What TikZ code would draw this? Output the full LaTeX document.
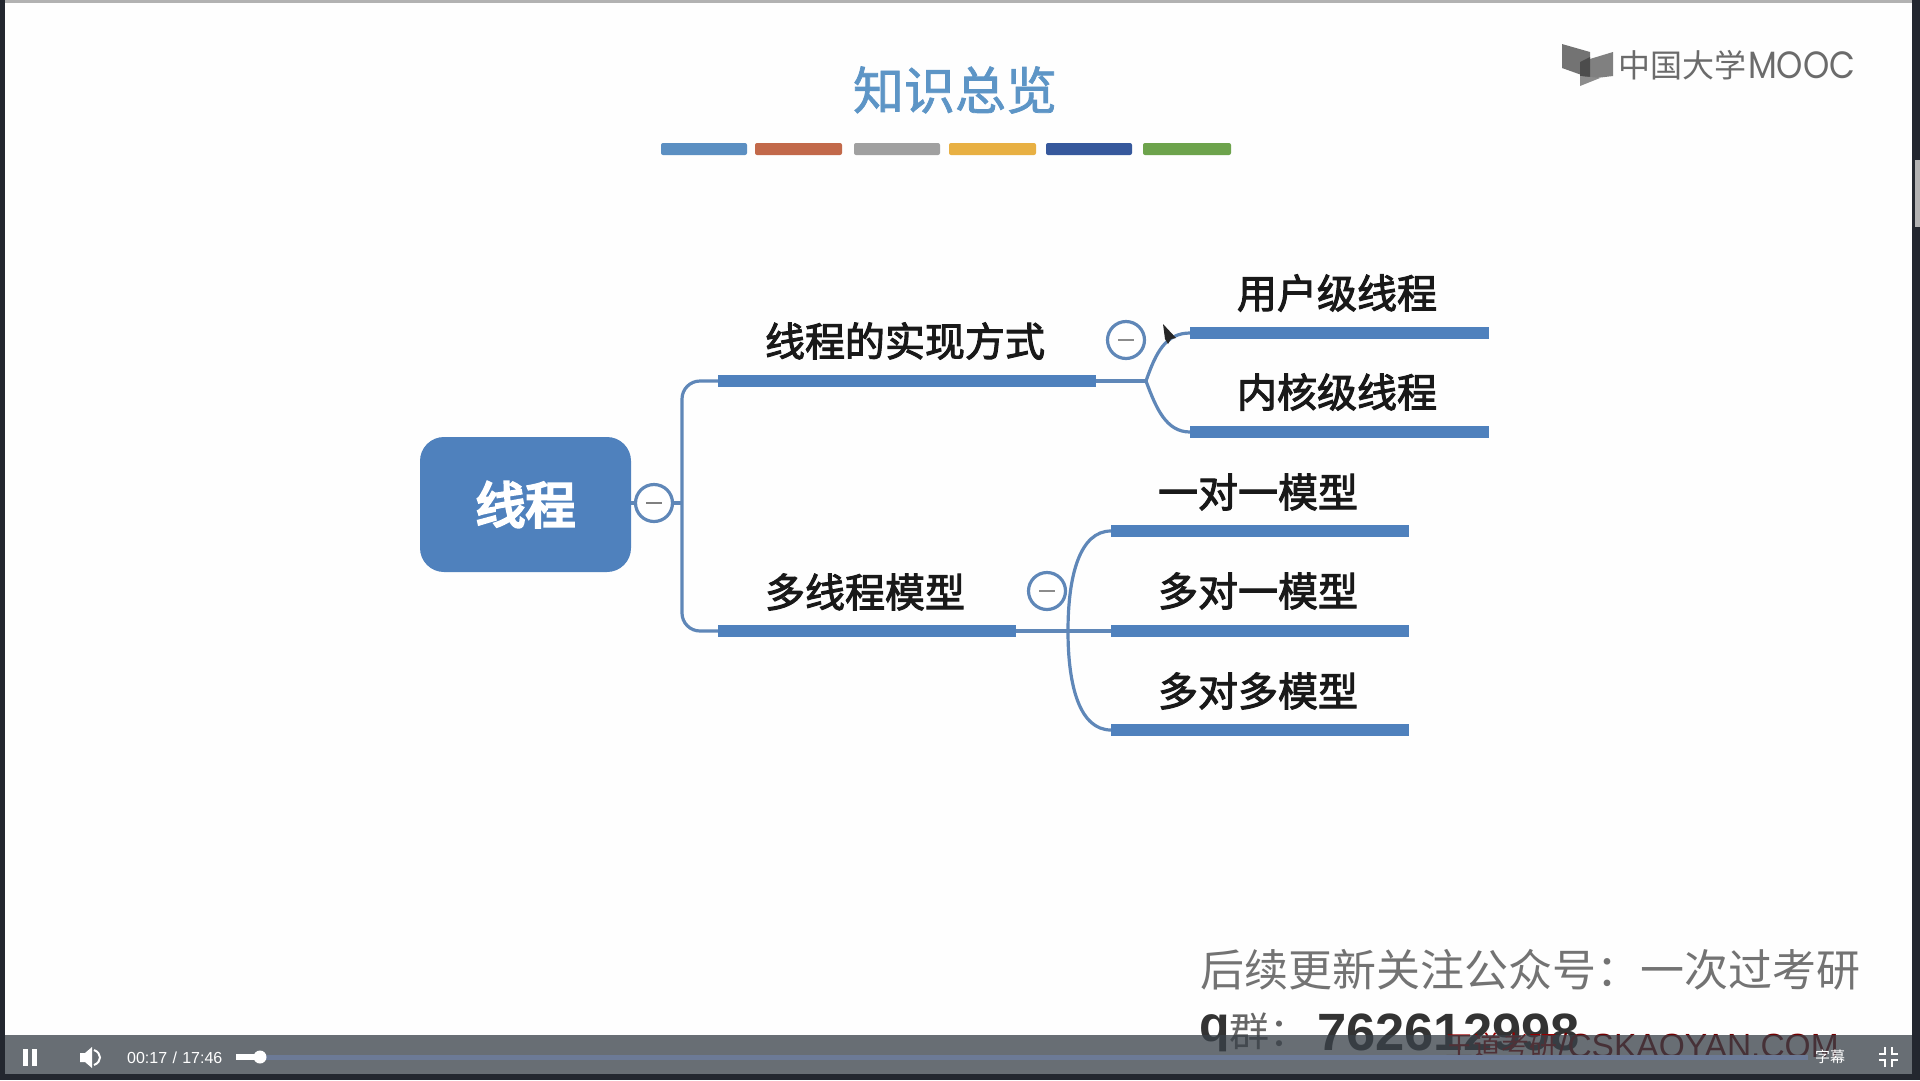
\documentclass[tikz,border=0pt]{standalone}
\usepackage{fontspec}
\setmainfont{Liberation Sans}
\newfontfamily\cjk{Noto Sans CJK SC}
\newfontfamily\cjkt[FakeBold=1.5]{Noto Sans CJK SC}
\newfontfamily\cjkm[FakeBold=2.5]{Noto Sans CJK SC}
\newfontfamily\cjkb[FakeBold=5]{Noto Sans CJK SC}
\newfontfamily\logofont{Poppins}
\usetikzlibrary{calc}
\definecolor{mapblue}{HTML}{4F81BD}
\definecolor{linkblue}{HTML}{5F87B8}
\definecolor{titleblue}{HTML}{5D95C6}
\definecolor{playerbar}{HTML}{394149}
\definecolor{edgedark}{HTML}{23272F}
\definecolor{trackblue}{HTML}{6C7A96}
\newcommand{\fs}[1]{\fontsize{#1}{#1}\selectfont}
\tikzset{
 barnode/.style={fill=mapblue,inner sep=0pt,minimum height=12pt},
 link/.style={draw=linkblue,line width=3.2pt},
 collapse/.style={circle,draw=linkblue,line width=3.2pt,fill=white,minimum size=37pt,inner sep=0pt},
 lab/.style={inner sep=0pt,font=\cjkm\fs{40},text=black!90},
 stripe/.style={rounded corners=2pt,inner sep=0pt,minimum height=12pt},
 ctl/.style={inner sep=0pt,text=white},
}
\begin{document}
\begin{tikzpicture}[x=1pt,y=-1pt]
\useasboundingbox (0,0) rectangle (1920,1080);
\fill[white!99.6!black] (0,0) rectangle (1920,1080);
% frame
\fill[black!30] (0,0) rectangle (1920,3);
\fill[edgedark] (0,0) rectangle (5,1080);
\fill[edgedark] (1912,0) rectangle (1920,1080);
\fill[black!30] (1915,160) rectangle (1920,227);
% title
\node[inner sep=0pt,font=\cjkt\fs{51},text=titleblue] (title) at (955,90) {知识总览};
\foreach \n/\a/\b/\c in {s1/661/747/5B8FC2,s2/755/842/C2694A,s3/854/940/A0A0A0,s4/949/1036/E8B043,s5/1046/1132/36589C,s6/1143/1231/6DA34C}{
  \definecolor{tmpc}{HTML}{\c}
  \node[stripe,fill=tmpc,minimum width={(\b-\a)*1pt}] (\n) at ({(\a+\b)/2},149) {};
}
% logo
\fill[black!55] (1562,44) -- (1590,52) -- (1590,78) -- (1562,68) -- cycle;
\fill[black!50] (1613,52) -- (1613,76) -- (1580,80) -- (1580,62) -- cycle;
\fill[black!70] (1580,62) -- (1590,57) -- (1590,78) -- (1580,76) -- cycle;
\fill[black!45] (1580,76) -- (1600,78) -- (1580,86) -- cycle;
\node[anchor=west,inner sep=0pt,font=\cjk\fs{32},text=black!58] (logozh) at (1618,65) {中国大学};
\node[anchor=west,inner sep=0pt,xscale=.88,font=\logofont\fs{38},text=black!58] (logoen) at (1748,65) {MOOC};
% mind map
\node[fill=mapblue,rounded corners=24pt,minimum width=211pt,minimum height=135pt,inner sep=0pt,font=\cjkb\fs{50},text=white] (root) at (525.5,504.5) {线程};
\node[barnode,minimum width=378pt,anchor=west] (b1) at (718,381) {};
\node[barnode,minimum width=298pt,anchor=west] (b2) at (718,631) {};
\node[barnode,minimum width=299pt,anchor=west] (u1) at (1190,333) {};
\node[barnode,minimum width=299pt,anchor=west] (u2) at (1190,432) {};
\node[barnode,minimum width=298pt,anchor=west] (m1) at (1111,531) {};
\node[barnode,minimum width=298pt,anchor=west] (m2) at (1111,631) {};
\node[barnode,minimum width=298pt,anchor=west] (m3) at (1111,730) {};
\coordinate (trunk) at (682,503);
\coordinate (j1) at (1146,381);
\coordinate (j2) at (1068,631);
\draw[link] (root.east |- trunk) -- (trunk);
\draw[link,rounded corners=18pt] (b1.west) -| (trunk) |- (b2.west);
\draw[link] (b1.east) -- (j1);
\draw[link] (b2.east) -- (j2);
\draw[link] (j1) .. controls (1156,352) and (1166,333) .. (u1.west);
\draw[link] (j1) .. controls (1156,408) and (1166,432) .. (u2.west);
\draw[link] (j2) .. controls (1068,575) and (1080,531) .. (m1.west);
\draw[link] (j2) -- (m2.west);
\draw[link] (j2) .. controls (1068,687) and (1080,730) .. (m3.west);
\node[collapse] (c0) at (654,503) {};
\draw[draw=black!50,line width=2.6pt] ($(c0)+(-8,0)$) -- ($(c0)+(8,0)$);
\node[collapse] (c1) at (1126,340) {};
\draw[draw=black!45,line width=2.6pt] ($(c1)+(-8,0)$) -- ($(c1)+(8,0)$);
\node[collapse] (c2) at (1047,591) {};
\draw[draw=black!45,line width=2.6pt] ($(c2)+(-8,0)$) -- ($(c2)+(8,0)$);
\node[lab] (t1) at (905,341) {线程的实现方式};
\node[lab] (t2) at (865,592) {多线程模型};
\node[lab] (t3) at (1337,293) {用户级线程};
\node[lab] (t4) at (1337,392) {内核级线程};
\node[lab] (t5) at (1258,492) {一对一模型};
\node[lab] (t6) at (1258,591) {多对一模型};
\node[lab] (t7) at (1258,691) {多对多模型};
% cursor
\fill[black!85] (1163,324) -- (1176,338) -- (1171,339) -- (1168,344) -- (1165,339) -- cycle;
% overlay texts
\node[anchor=west,inner sep=0pt,font=\cjk\fs{44},text=black!55] (note) at (1200,970) {后续更新关注公众号：一次过考研};
\node[anchor=west,inner sep=0pt,font=\bfseries\fs{50},text=black!80] (qq) at (1199,1033) {q};
\node[anchor=west,inner sep=0pt,font=\cjk\fs{40},text=black!60] (qun) at (1229,1031) {群：};
\node[anchor=west,inner sep=0pt,font=\bfseries\fs{52.5},text=black!80] (num) at (1317,1032) {762612998};
\node[anchor=west,inner sep=0pt,font=\cjk\fs{28},text=red!60!black] (wm1) at (1445,1046) {王道考研};
\node[anchor=west,inner sep=0pt,font=\fs{33.5},text=red!45!black] (wm2) at (1558,1046) {/CSKAOYAN.COM};
% player bar
\fill[playerbar,opacity=.76] (5,1035) rectangle (1912,1074);
\fill[edgedark] (0,1074) rectangle (1920,1080);
\fill[trackblue] (236,1054.5) rectangle (1808,1059.5);
\fill[white] (23,1049) rectangle (28,1066);
\fill[white] (32,1049) rectangle (37,1066);
\fill[white] (80,1053) -- (85,1053) -- (92,1047) -- (92,1068) -- (85,1062) -- (80,1062) -- cycle;
\draw[white,line width=2pt] (94,1050) .. controls (102,1053) and (102,1062) .. (94,1065);
\node[ctl,font=\fs{16},anchor=west] (time) at (127,1057.5) {00:17\,\,/\,\,17:46};
\fill[white] (236,1054) rectangle (260,1060);
\fill[white] (260,1057) circle (6.5pt);
\node[ctl,font=\cjk\fs{15}] (sub) at (1830,1057) {字幕};
\draw[white,line width=2pt] (1885,1047) -- (1885,1054) -- (1879,1054);
\draw[white,line width=2pt] (1892,1047) -- (1892,1054) -- (1898,1054);
\draw[white,line width=2pt] (1885,1067) -- (1885,1060) -- (1879,1060);
\draw[white,line width=2pt] (1892,1067) -- (1892,1060) -- (1898,1060);
\end{tikzpicture}
\end{document}
